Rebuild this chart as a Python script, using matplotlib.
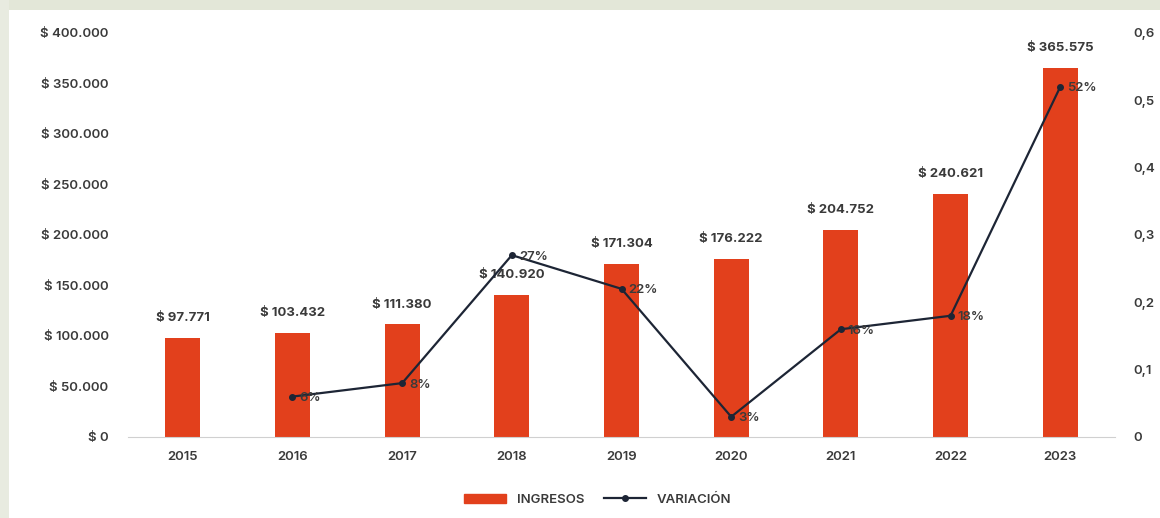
import matplotlib
matplotlib.use("Agg")
import matplotlib.pyplot as plt
from matplotlib.patches import Rectangle
from matplotlib.lines import Line2D
from matplotlib.ticker import FuncFormatter

years = ["2015", "2016", "2017", "2018", "2019", "2020", "2021", "2022", "2023"]
ingresos = [97771, 103432, 111380, 140920, 171304, 176222, 204752, 240621, 365575]
var_years = ["2016", "2017", "2018", "2019", "2020", "2021", "2022", "2023"]
variacion = [0.06, 0.08, 0.27, 0.22, 0.03, 0.16, 0.18, 0.52]
var_labels = ["6%", "8%", "27%", "22%", "3%", "16%", "18%", "52%"]
left_ticks = [0, 50000, 100000, 150000, 200000, 250000, 300000, 350000, 400000]
right_ticks = [0, 0.1, 0.2, 0.3, 0.4, 0.5, 0.6]

plt.rcParams['font.family'] = ['Inter', 'DejaVu Sans']
TXT = "#3a3a3a"
BAR = "#E2401C"
LINE = "#1d2535"
FS = 9.5

fig = plt.figure(figsize=(11.6, 5.18), dpi=100)
fig.patch.set_facecolor("white")
# decorative frame
fig.patches.append(Rectangle((0, 0.98), 1, 0.02, transform=fig.transFigure,
                             facecolor="#e3e7d8", edgecolor="none", zorder=0))
fig.patches.append(Rectangle((0, 0), 0.008, 1, transform=fig.transFigure,
                             facecolor="#e8ebe0", edgecolor="none", zorder=0))

ax = fig.add_axes([0.1103, 0.1564, 0.851, 0.780])
x = list(range(len(years)))
ax.bar(x, ingresos, width=0.32, color=BAR, zorder=2)
ax.set_xlim(-0.5, len(years) - 0.5)
ax.set_ylim(0, 400000)
ax.set_yticks(left_ticks)
ax.yaxis.set_major_formatter(FuncFormatter(
    lambda v, p: "$ " + f"{int(v):,}".replace(",", ".")))
ax.set_xticks(x)
ax.set_xticklabels(years)
for s in ["top", "right", "left"]:
    ax.spines[s].set_visible(False)
ax.spines["bottom"].set_color("#d0d0d0")
ax.tick_params(axis="both", length=0, colors=TXT, labelsize=FS)
ax.tick_params(axis="y", pad=14)
ax.tick_params(axis="x", pad=10)
for lab in ax.get_xticklabels() + ax.get_yticklabels():
    lab.set_fontweight("semibold")

for xi, v in zip(x, ingresos):
    ax.annotate("$ " + f"{v:,}".replace(",", "."), (xi, v), xytext=(0, 10),
                textcoords="offset points", ha="center", va="bottom",
                fontsize=FS, fontweight="bold", color=TXT, zorder=5)

ax2 = ax.twinx()
ax2.set_ylim(0, 0.6)
ax2.set_yticks(right_ticks)
ax2.yaxis.set_major_formatter(FuncFormatter(
    lambda v, p: "0" if v == 0 else f"{v:.1f}".replace(".", ",")))
for s in ax2.spines.values():
    s.set_visible(False)
ax2.tick_params(axis="y", length=0, colors=TXT, labelsize=FS, pad=13)
for lab in ax2.get_yticklabels():
    lab.set_fontweight("semibold")

vx = [years.index(y) for y in var_years]
ax2.plot(vx, variacion, color=LINE, lw=1.6, marker="o", markersize=4, zorder=4)
for xi, v, t in zip(vx, variacion, var_labels):
    ax2.annotate(t, (xi, v), xytext=(5, -1), textcoords="offset points",
                 ha="left", va="center", fontsize=FS, fontweight="semibold",
                 color=TXT, zorder=5)

handles = [Rectangle((0, 0), 1, 1, color=BAR),
           Line2D([0], [0], color=LINE, lw=1.6, marker="o", markersize=4)]
fig.legend(handles, ["INGRESOS", "VARIACIÓN"], loc="center",
           bbox_to_anchor=(0.515, 0.035), ncol=2, frameon=False,
           prop={"size": FS, "weight": "semibold"}, labelcolor=TXT,
           handlelength=3.2, handleheight=0.7, columnspacing=1.5)

fig.savefig("out.png", dpi=100, facecolor=fig.get_facecolor())
